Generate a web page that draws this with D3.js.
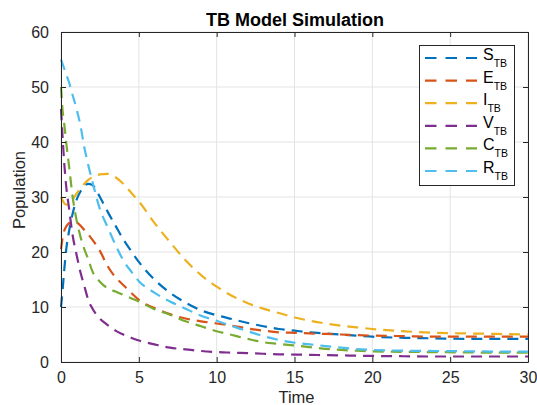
<!DOCTYPE html>
<html>
<head>
<meta charset="utf-8">
<script src="https://cdn.jsdelivr.net/npm/d3@7"></script>
<style>
  html, body { margin: 0; padding: 0; background: #fff; }
  svg { display: block; font-family: "Liberation Sans", Arial, Helvetica, sans-serif; }
</style>
</head>
<body>
<svg id="chart" width="537" height="405"></svg>
<script>
// Time grid shared by all compartments
const time = [0, 0.1, 0.2, 0.35, 0.5, 0.75, 1, 1.25, 1.5, 1.75, 2, 2.5, 3, 3.5, 4, 4.5, 5,
              6, 7, 8, 9, 10, 11, 12, 13, 14, 15, 16, 17, 18, 19, 20, 22, 24, 26, 28, 30];

// Compartment populations over time
const S_TB = [10, 13, 16.5, 20.8, 23.5, 27, 29.5, 31, 32, 32.4, 32.2, 30, 27.3, 24.8, 22.3, 20.2, 18.2,
              15, 12.6, 10.8, 9.4, 8.5, 7.8, 7.1, 6.5, 6.0, 5.7, 5.4, 5.2, 5.0, 4.8, 4.6, 4.4, 4.3, 4.2, 4.2, 4.2];
const E_TB = [20.5, 22.5, 23.8, 24.7, 25.2, 25.5, 25.4, 24.8, 24, 23.2, 22.3, 20.2, 17.4, 15.4, 14, 12.6, 11.3,
              9.8, 8.7, 7.9, 7.4, 7.0, 6.6, 6.1, 5.7, 5.4, 5.3, 5.2, 5.1, 5.0, 4.9, 4.8, 4.7, 4.6, 4.6, 4.6, 4.6];
const I_TB = [30, 29.4, 28.9, 28.6, 28.8, 29.6, 30.6, 31.6, 32.4, 33.1, 33.6, 34.1, 34.2, 33.6, 32.4, 30.8, 29.2,
              25.3, 21.8, 18.5, 15.8, 13.7, 12, 10.7, 9.7, 8.9, 8.1, 7.5, 7.0, 6.6, 6.3, 6.0, 5.6, 5.3, 5.2, 5.1, 5.0];
const V_TB = [46, 41, 36.5, 31.5, 28.3, 23, 19.5, 16.3, 13.8, 11.3, 9.8, 7.9, 6.7, 5.7, 5.0, 4.4, 3.9,
              3.2, 2.6, 2.3, 2.0, 1.8, 1.7, 1.6, 1.5, 1.4, 1.35, 1.3, 1.25, 1.2, 1.15, 1.1, 1.05, 1.0, 1.0, 1.0, 1.0];
const C_TB = [50, 45.8, 43.5, 39.5, 36, 30, 25.8, 22.8, 20.5, 18.7, 16.6, 14.6, 13.4, 12.8, 12.2, 11.6, 11,
              9.6, 8.6, 7.4, 6.5, 5.6, 4.9, 4.2, 3.6, 3.3, 3.0, 2.7, 2.4, 2.2, 2.05, 1.95, 1.85, 1.8, 1.75, 1.7, 1.7];
const R_TB = [55, 54.2, 53.4, 52.2, 51, 48.5, 46, 43, 39, 35.8, 33, 27.8, 24.5, 21.3, 18.5, 16.5, 14.7,
              12.6, 11, 9.7, 8.4, 7.5, 6.5, 5.6, 4.7, 4.0, 3.5, 3.2, 2.9, 2.6, 2.35, 2.2, 2.05, 2.0, 1.95, 1.9, 1.9];

const seriesNames = ["S", "E", "I", "V", "C", "R"];
const seriesValues = [S_TB, E_TB, I_TB, V_TB, C_TB, R_TB];
const seriesColors = ["#0072BD", "#D95319", "#EDB120", "#7E2F8E", "#77AC30", "#4DBEEE"];

const xTicks = [0, 5, 10, 15, 20, 25, 30];
const yTicks = [0, 10, 20, 30, 40, 50, 60];

const svg = d3.select("#chart");
const m = { left: 61, right: 528, top: 32, bottom: 362 };

const x = d3.scaleLinear().domain([0, 30]).range([m.left, m.right]);
const y = d3.scaleLinear().domain([0, 60]).range([m.bottom, m.top]);

const axisColor = "#262626";

// Grid
const grid = svg.append("g").attr("stroke", "#e3e3e3").attr("stroke-width", 1);
grid.selectAll("line.vx").data(xTicks).join("line")
  .attr("x1", d => x(d)).attr("x2", d => x(d))
  .attr("y1", m.top).attr("y2", m.bottom);
grid.selectAll("line.hy").data(yTicks).join("line")
  .attr("x1", m.left).attr("x2", m.right)
  .attr("y1", d => y(d)).attr("y2", d => y(d));

// Curves
const line = d3.line()
  .x((d, i) => x(time[i]))
  .y(d => y(d))
  .curve(d3.curveMonotoneX);

const plot = svg.append("g");
seriesValues.forEach((vals, k) => {
  plot.append("path")
    .datum(vals)
    .attr("d", line)
    .attr("fill", "none")
    .attr("stroke", seriesColors[k])
    .attr("stroke-width", 2.2)
    .attr("stroke-dasharray", "11,7");
});

// Axes (ticks pointing inward, full box)
const fontSize = 16;
const xAxisB = d3.axisBottom(x).tickValues(xTicks).tickSizeInner(-5).tickSizeOuter(0).tickPadding(10);
const yAxisL = d3.axisLeft(y).tickValues(yTicks).tickSizeInner(-5).tickSizeOuter(0).tickPadding(12);
const xAxisT = d3.axisTop(x).tickValues(xTicks).tickSizeInner(-5).tickSizeOuter(0).tickFormat("");
const yAxisR = d3.axisRight(y).tickValues(yTicks).tickSizeInner(-5).tickSizeOuter(0).tickFormat("");

function styleAxis(g) {
  g.selectAll("path.domain").attr("stroke", axisColor).attr("stroke-width", 1);
  g.selectAll(".tick line").attr("stroke", axisColor);
  g.selectAll(".tick text").attr("fill", axisColor)
    .style("font-size", fontSize + "px")
    .style("font-family", '"Liberation Sans", Arial, Helvetica, sans-serif');
}

svg.append("g").attr("transform", `translate(0,${m.top})`).call(xAxisT).call(styleAxis);
svg.append("g").attr("transform", `translate(${m.right},0)`).call(yAxisR).call(styleAxis);
svg.append("g").attr("transform", `translate(0,${m.bottom})`).call(xAxisB).call(styleAxis);
svg.append("g").attr("transform", `translate(${m.left},0)`).call(yAxisL).call(styleAxis);

// Title and axis labels
svg.append("text")
  .attr("x", 295).attr("y", 26)
  .attr("text-anchor", "middle")
  .attr("font-weight", "bold")
  .attr("font-size", 18)
  .attr("fill", "#000")
  .text("TB Model Simulation");

svg.append("text")
  .attr("x", (m.left + m.right) / 2 + 2).attr("y", 403)
  .attr("text-anchor", "middle")
  .attr("font-size", 16.5)
  .attr("fill", axisColor)
  .text("Time");

svg.append("text")
  .attr("transform", "translate(25,190) rotate(-90)")
  .attr("text-anchor", "middle")
  .attr("font-size", 16.5)
  .attr("fill", axisColor)
  .text("Population");

// Legend
const legend = svg.append("g");
legend.append("rect")
  .attr("x", 419.5).attr("y", 45.5)
  .attr("width", 95).attr("height", 140)
  .attr("fill", "#fff")
  .attr("stroke", axisColor)
  .attr("stroke-width", 1);

seriesNames.forEach((name, k) => {
  const cy = 58 + k * 22.6;
  legend.append("line")
    .attr("x1", 425).attr("x2", 477)
    .attr("y1", cy).attr("y2", cy)
    .attr("stroke", seriesColors[k])
    .attr("stroke-width", 2.2)
    .attr("stroke-dasharray", "11.5,9");
  const t = legend.append("text")
    .attr("x", 483).attr("y", cy + 2)
    .attr("font-size", 16)
    .attr("fill", "#000");
  t.append("tspan").text(name);
  t.append("tspan").attr("dy", 7).attr("font-size", 10.5).text("TB");
});
</script>
</body>
</html>
